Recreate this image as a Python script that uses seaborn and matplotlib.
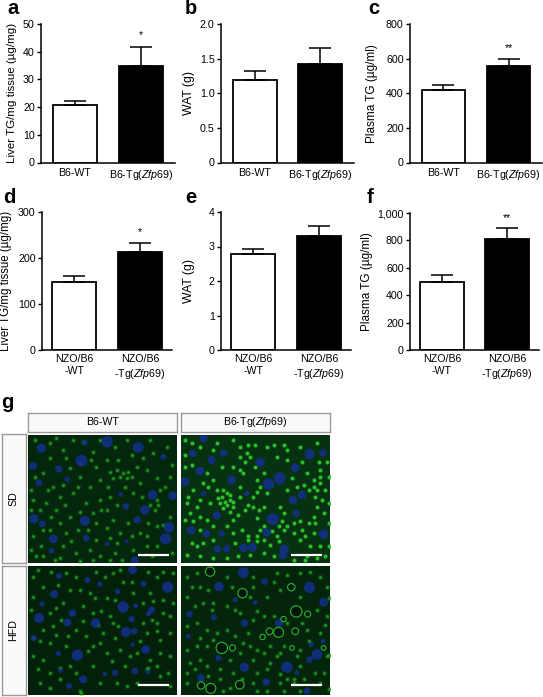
import matplotlib
matplotlib.use('Agg')
import matplotlib.pyplot as plt
import pandas as pd
import seaborn as sns

W, H = 543, 697

# bar data
groups_top = ['B6-WT', r'B6-Tg($\mathit{Zfp69}$)']
groups_bot = ['NZO/B6\n-WT', 'NZO/B6\n' + r'-Tg($\mathit{Zfp69}$)']

liver_top = [20.7, 35.0]
liver_top_err = [1.5, 6.8]
wat_top = [1.19, 1.42]
wat_top_err = [0.13, 0.23]
plasma_top = [420, 558]
plasma_top_err = [25, 39]
liver_bot = [147, 214]
liver_bot_err = [13, 18]
wat_bot = [2.77, 3.31]
wat_bot_err = [0.17, 0.29]
plasma_bot = [497, 812]
plasma_bot_err = [53, 81]

# micrograph marks, in pixels of a 3x crop of the picture: x, y, radius
sd_wt_nuclei = [(245,212,18),(322,155,17),(125,175,14),(415,172,16),(177,237,11),(100,228,12),(102,387,14),
                (128,402,10),(255,393,15),(161,447,13),(259,445,10),(155,483,8),(378,350,10),(435,360,14),
                (412,390,11),(497,447,17),(507,412,16),(518,318,13),(458,315,14),(362,313,7),(202,268,8),
                (118,278,10),(490,200,9),(255,157,9),(380,455,6),(405,512,12),(322,462,7)]
sd_tg_nuclei = [(610,145,12),(578,190,11),(635,210,12),(670,190,11),(600,243,13),(555,275,13),(695,270,13),
                (780,217,14),(885,233,13),(928,192,15),(968,188,11),(838,265,18),(805,283,17),(878,330,13),
                (905,315,13),(650,377,12),(818,388,18),(800,428,13),(970,433,14),(573,422,13),(620,432,11),
                (665,432,9),(652,478,11),(680,477,11),(730,475,13),(757,473,13),(852,478,14),(848,497,12),
                (740,310,8),(610,312,8),(887,370,11)]
hfd_wt_nuclei = [(178,558,9),(263,570,9),(398,540,13),(300,583,8),(430,582,9),(503,592,17),(353,605,8),
                 (163,613,12),(127,642,8),(370,652,17),(407,648,7),(218,670,11),(118,685,15),(203,698,12),
                 (287,700,14),(395,688,9),(378,727,15),(403,725,10),(233,797,17),(437,780,13),(176,792,8),
                 (103,745,9),(405,845,10),(345,850,9),(315,853,7),(250,870,12),(445,847,7),(182,843,7),
                 (208,890,9),(398,765,6),(455,660,10),(445,672,8)]
hfd_tg_nuclei = [(730,548,16),(793,575,10),(657,590,14),(928,593,17),(970,637,13),(705,630,8),(765,638,7),
                 (568,673,10),(642,682,9),(733,700,11),(837,700,13),(950,795,16),(928,810,10),(655,805,9),
                 (733,833,14),(860,833,17),(890,850,7),(798,878,11),(603,865,11),(933,765,8),(968,755,7),
                 (920,905,10),(565,740,7)]
hfd_tg_rings = [(630,545,14),(727,610,14),(873,592,11),(888,665,17),(922,673,9),(835,728,15),(808,725,10),
                (787,742,8),(850,688,8),(885,725,10),(665,775,17),(697,775,9),(603,888,11),(632,897,15),
                (719,886,13),(875,775,7),(970,775,7)]

sd_wt_spots = [(95,300),(125,470),(250,155),(150,160),(190,180),(220,150),(280,185),(345,170),(380,150),(450,150),
               (500,170),(290,230),(330,245),(350,240),(370,250),(385,245),(360,262),(340,265),(380,265),(395,260),
               (130,250),(160,290),(210,235),(240,260),(270,290),(300,270),(410,230),(440,240),(470,265),(510,260),
               (100,330),(140,340),(180,320),(220,310),(260,340),(300,330),(330,320),(350,345),(400,310),(470,330),
               (475,345),(465,360),(450,345),(100,440),(130,420),(180,400),(210,380),(290,400),(320,415),(340,390),
               (360,430),(420,430),(440,440),(470,410),(490,405),(110,500),(190,470),(230,490),(270,480),(300,500),
               (345,490),(400,480),(440,470),(470,470),(200,430),(290,450),(510,380),(95,360),(170,360),(305,360),
               (240,220),(320,210),(430,205),(460,190),(515,225),(180,505),(130,500),(350,460),(480,300),(420,280),
               (105,150),(170,145),(300,150),(395,195),(355,210),(275,210),(200,205),(150,205),(105,260),(145,300),
               (190,285),(235,290),(325,290),(375,290),(425,320),(495,290),(120,360),(155,380),(195,345),(240,365),
               (280,370),(320,360),(385,400),(445,400),(150,420),(235,420),(265,420),(330,445),(395,440),(215,455),
               (280,510),(330,510),(165,510),(95,480),(455,500),(515,490),(365,510),(240,515)]
sd_tg_spots = [(555,150),(575,160),(650,160),(700,150),(720,170),(750,200),(735,215),(800,170),(860,180),(900,170),
               (950,160),(980,215),(960,240),(940,290),(960,280),(975,300),(950,300),(920,250),(860,300),(790,250),
               (770,270),(780,290),(770,305),(680,310),(665,320),(690,330),(680,345),(660,340),(700,350),(640,270),
               (625,290),(610,280),(580,300),(560,340),(590,350),(570,370),(600,380),(620,390),(700,390),(735,360),
               (760,350),(790,350),(840,350),(850,370),(835,410),(850,420),(830,440),(780,420),(770,440),(790,450),
               (880,400),(905,420),(925,400),(940,380),(950,350),(970,370),(880,430),(900,450),(930,470),(960,470),
               (975,500),(920,500),(880,510),(820,500),(790,490),(750,495),(715,500),(680,505),(640,505),(600,500),
               (560,495),(700,430),(725,420),(745,450),(610,460),(590,470),(640,410),(680,410),(650,300),(720,290),
               (730,250),(700,230),(830,200),(860,210),(910,285),(940,430),(985,400),(555,230),(600,170),(745,165),
               (670,300),(690,315),(675,335),(655,325),(700,335),(670,355),(690,365),(715,375),(745,345),(775,360),
               (770,385),(790,410),(815,425),(845,395),(860,410),(835,455),(810,465),(770,455),(745,440),(900,395),
               (915,440),(945,400),(965,330),(985,340),(960,260),(940,270),(925,300),(945,320),(890,290),(850,165),
               (820,165),(765,165),(720,200),(740,190),(765,230),(800,310),(760,320),(720,320),(640,180),(665,230),
               (620,250),(575,225),(555,195),(565,320),(600,330),(630,340),(580,395),(555,390),(600,420),(640,450),
               (575,460),(705,460),(915,510),(950,505),(985,470),(985,260),(875,265),(905,215),(955,215),(720,240)]
hfd_wt_spots = [(100,560),(130,590),(200,550),(230,560),(290,545),(340,550),(370,575),(470,560),(520,550),(240,600),
                (270,610),(320,625),(400,610),(450,610),(490,630),(520,640),(100,620),(190,640),(250,650),(330,680),
                (340,700),(430,640),(430,700),(470,700),(510,680),(150,670),(160,710),(130,720),(230,720),(260,740),
                (310,730),(345,745),(440,730),(480,750),(510,730),(150,760),(200,770),(280,770),(320,790),(360,780),
                (390,800),(480,790),(510,800),(100,800),(130,810),(150,850),(210,830),(280,830),(300,880),(350,880),
                (380,890),(440,840),(480,860),(510,890),(120,880),(240,905),(100,745),(182,835),(445,835),(245,910),
                (115,540),(155,545),(315,560),(360,540),(445,545),(490,545),(175,585),(210,600),(285,625),(345,630),
                (395,575),(460,635),(170,655),(280,670),(305,665),(455,690),(490,670),(95,660),(185,690),(250,695),
                (120,755),(170,735),(205,740),(295,705),(355,710),(470,725),(420,755),(265,785),(300,760),(410,790),
                (450,810),(115,840),(180,870),(230,850),(335,815),(375,830),(470,830),(505,850),(150,895),(410,880)]
hfd_tg_spots = [(560,560),(590,550),(600,590),(680,560),(760,560),(830,550),(900,550),(960,560),(980,590),(560,620),
                (610,640),(680,650),(750,620),(800,620),(840,600),(900,620),(950,660),(980,680),(590,700),(620,720),
                (680,720),(760,690),(790,680),(820,680),(860,700),(920,720),(960,730),(590,770),(620,770),(730,760),
                (770,780),(810,770),(850,770),(900,780),(570,820),(620,830),(690,810),(700,850),(760,810),(810,820),
                (830,800),(890,800),(980,800),(560,880),(660,870),(760,880),(840,880),(880,880),(970,850),(670,905),
                (860,870),(880,868),(985,795),(770,850),(640,640),(720,670),(600,810),(900,830),(960,880),(800,905),
                (575,590),(625,600),(695,590),(760,590),(820,575),(860,555),(930,545),(985,625),(585,650),(635,660),
                (705,660),(770,665),(905,700),(975,705),(560,710),(650,730),(705,740),(745,730),(600,745),(640,750),
                (790,790),(840,790),(925,755),(560,780),(720,790),(660,840),(725,870),(800,840),(840,855),(910,870),
                (585,840),(625,860),(770,905),(850,905),(945,850),(985,900),(690,895),(900,905),(560,850),(750,770)]

sns.set_theme(style='ticks')
plt.rcParams['font.family'] = ['Liberation Sans', 'DejaVu Sans']
plt.rcParams['mathtext.fontset'] = 'custom'
plt.rcParams['mathtext.rm'] = 'Liberation Sans'
plt.rcParams['mathtext.it'] = 'Liberation Sans:italic'

fig = plt.figure(figsize=(W / 100, H / 100), dpi=100)


def px_axes(left, top, right, bottom):
    return fig.add_axes([left / W, 1 - bottom / H, (right - left) / W, (bottom - top) / H])


def bar_panel(box, cats, vals, errs, ymax, ticks, ticklabels, ylabel, label_x, label_size, letter, letter_xy, stars,
              star_y, cx, pad):
    ax = px_axes(*box)
    df = pd.DataFrame({'group': cats, 'value': vals})
    sns.barplot(data=df, x='group', y='value', hue='group', palette=['white', 'black'], legend=False,
                width=0.667, edgecolor='black', linewidth=1.3, saturation=1, errorbar=None, ax=ax)
    ax.errorbar([0, 1], vals, yerr=[[0, 0], errs], fmt='none', ecolor='black', elinewidth=1.1, capsize=7.8,
                capthick=1.1, zorder=5)
    ax.set_ylim(0, ymax)
    ax.set_xlim(cx)
    ax.set_yticks(ticks)
    ax.set_yticklabels(ticklabels)
    ax.tick_params(axis='y', length=3, width=1, pad=1.5, labelsize=7.7, colors='black')
    ax.tick_params(axis='x', length=0, pad=pad, labelsize=7.7, colors='black')
    for t in ax.get_xticklabels():
        t.set_linespacing(1.25)
    ax.set_xlabel('')
    ax.set_ylabel(ylabel, fontsize=label_size, color='black')
    ax.yaxis.set_label_coords((label_x - box[0]) / (box[2] - box[0]), 0.5)
    sns.despine(ax=ax)
    for s in ['left', 'bottom']:
        ax.spines[s].set_linewidth(1.1)
        ax.spines[s].set_color('black')
    if stars:
        ax.text(1, star_y, stars, ha='center', va='center', fontsize=7.5, color='black')
    fig.text(letter_xy[0] / W, 1 - letter_xy[1] / H, letter, fontsize=14.5, fontweight='bold', color='black',
             ha='left', va='baseline')
    return ax


xlim_top = (-0.515, 1.515)
xlim_bot = (-0.49, 1.49)
bar_panel((41, 24, 175, 162.5), groups_top, liver_top, liver_top_err, 50, [0, 10, 20, 30, 40, 50],
          ['0', '10', '20', '30', '40', '50'], 'Liver TG/mg tissue (µg/mg)', 17, 8.25, 'a', (7, 14), '*', 46, xlim_top, 4)
bar_panel((221, 24, 354, 162.5), groups_top, wat_top, wat_top_err, 2.0, [0, 0.5, 1.0, 1.5, 2.0],
          ['0', '0.5', '1.0', '1.5', '2.0'], 'WAT (g)', 195, 8.8, 'b', (185, 14), '', 0, xlim_top, 4)
bar_panel((410, 24, 542, 162.5), groups_top, plasma_top, plasma_top_err, 800, [0, 200, 400, 600, 800],
          ['0', '200', '400', '600', '800'], 'Plasma TG (µg/ml)', 378, 8.5, 'c', (368, 14), '**', 661, xlim_top, 4)
bar_panel((42, 212, 172, 350), groups_bot, liver_bot, liver_bot_err, 300, [0, 100, 200, 300],
          ['0', '100', '200', '300'], 'Liver TG/mg tissue (µg/mg)', 12, 8.3, 'd', (3, 203), '*', 256, xlim_bot, 3)
bar_panel((221, 212, 351, 350), groups_bot, wat_bot, wat_bot_err, 4, [0, 1, 2, 3, 4],
          ['0', '1', '2', '3', '4'], 'WAT (g)', 195, 8.8, 'e', (185, 203), '', 0, xlim_bot, 3)
bar_panel((410, 213, 539, 350), groups_bot, plasma_bot, plasma_bot_err, 1000, [0, 200, 400, 600, 800, 1000],
          ['0', '200', '400', '600', '800', '1,000'], 'Plasma TG (µg/ml)', 373, 8.5, 'f', (367, 203), '**', 962, xlim_bot, 3)

fig.text(1 / W, 1 - 408 / H, 'g', fontsize=14.5, fontweight='bold', color='black', ha='left', va='baseline')


def label_box(box, text, rotation=0):
    ax = px_axes(*box)
    ax.set_xticks([])
    ax.set_yticks([])
    ax.set_facecolor('#fafafa')
    for s in ax.spines.values():
        s.set_color('#9a9a9a')
        s.set_linewidth(1)
    ax.text(0.5, 0.5, text, ha='center', va='center', rotation=rotation, fontsize=7.7, color='black',
            transform=ax.transAxes)


label_box((28, 413, 177, 432), 'B6-WT')
label_box((181, 413, 330, 432), r'B6-Tg($\mathit{Zfp69}$)')
label_box((1.5, 434, 25.5, 563), 'SD', 90)
label_box((1.5, 566, 25.5, 695), 'HFD', 90)


def micrograph(box, xlim, ylim, bg, nuclei, spots, bar_y, rings=None, spot_color='#1f9a22', spot_size=4):
    ax = px_axes(*box)
    ax.set_facecolor(bg)
    spot_df = pd.DataFrame(spots, columns=['x', 'y'])
    sns.scatterplot(data=spot_df, x='x', y='y', s=16, color='#167a1a', alpha=0.35, linewidth=0, ax=ax)
    sns.scatterplot(data=spot_df, x='x', y='y', s=spot_size, color=spot_color, linewidth=0, ax=ax)
    nuc_df = pd.DataFrame(nuclei, columns=['x', 'y', 'r'])
    sns.scatterplot(data=nuc_df, x='x', y='y', s=(nuc_df['r'] * 0.48) ** 2, color='#12308c', alpha=0.85, linewidth=0,
                    ax=ax)
    if rings:
        ring_df = pd.DataFrame(rings, columns=['x', 'y', 'r'])
        sns.scatterplot(data=ring_df, x='x', y='y', s=(ring_df['r'] * 0.48) ** 2, color='#03140a', edgecolor='#25a828',
                        linewidth=0.9, ax=ax)
    ax.plot([xlim[1] - 117, xlim[1] - 24], [bar_y, bar_y], color='white', lw=1.6, solid_capstyle='butt')
    ax.set_xlim(xlim)
    ax.set_ylim(ylim)
    ax.set_xticks([])
    ax.set_yticks([])
    ax.set_xlabel('')
    ax.set_ylabel('')
    for s in ax.spines.values():
        s.set_visible(False)


micrograph((28, 434.5, 177, 563), (85, 531), (520, 133), '#04260c', sd_wt_nuclei, sd_wt_spots, 496)
micrograph((181, 434.5, 330, 563), (543, 989), (520, 133), '#063212', sd_tg_nuclei, sd_tg_spots, 496,
           spot_color='#2cc02e', spot_size=7)
micrograph((28, 566, 177, 695), (85, 531), (917, 528), '#03200b', hfd_wt_nuclei, hfd_wt_spots, 886)
micrograph((181, 566, 330, 695), (543, 989), (917, 528), '#04240c', hfd_tg_nuclei, hfd_tg_spots, 886, hfd_tg_rings)

fig.savefig('out.png', dpi=100)
